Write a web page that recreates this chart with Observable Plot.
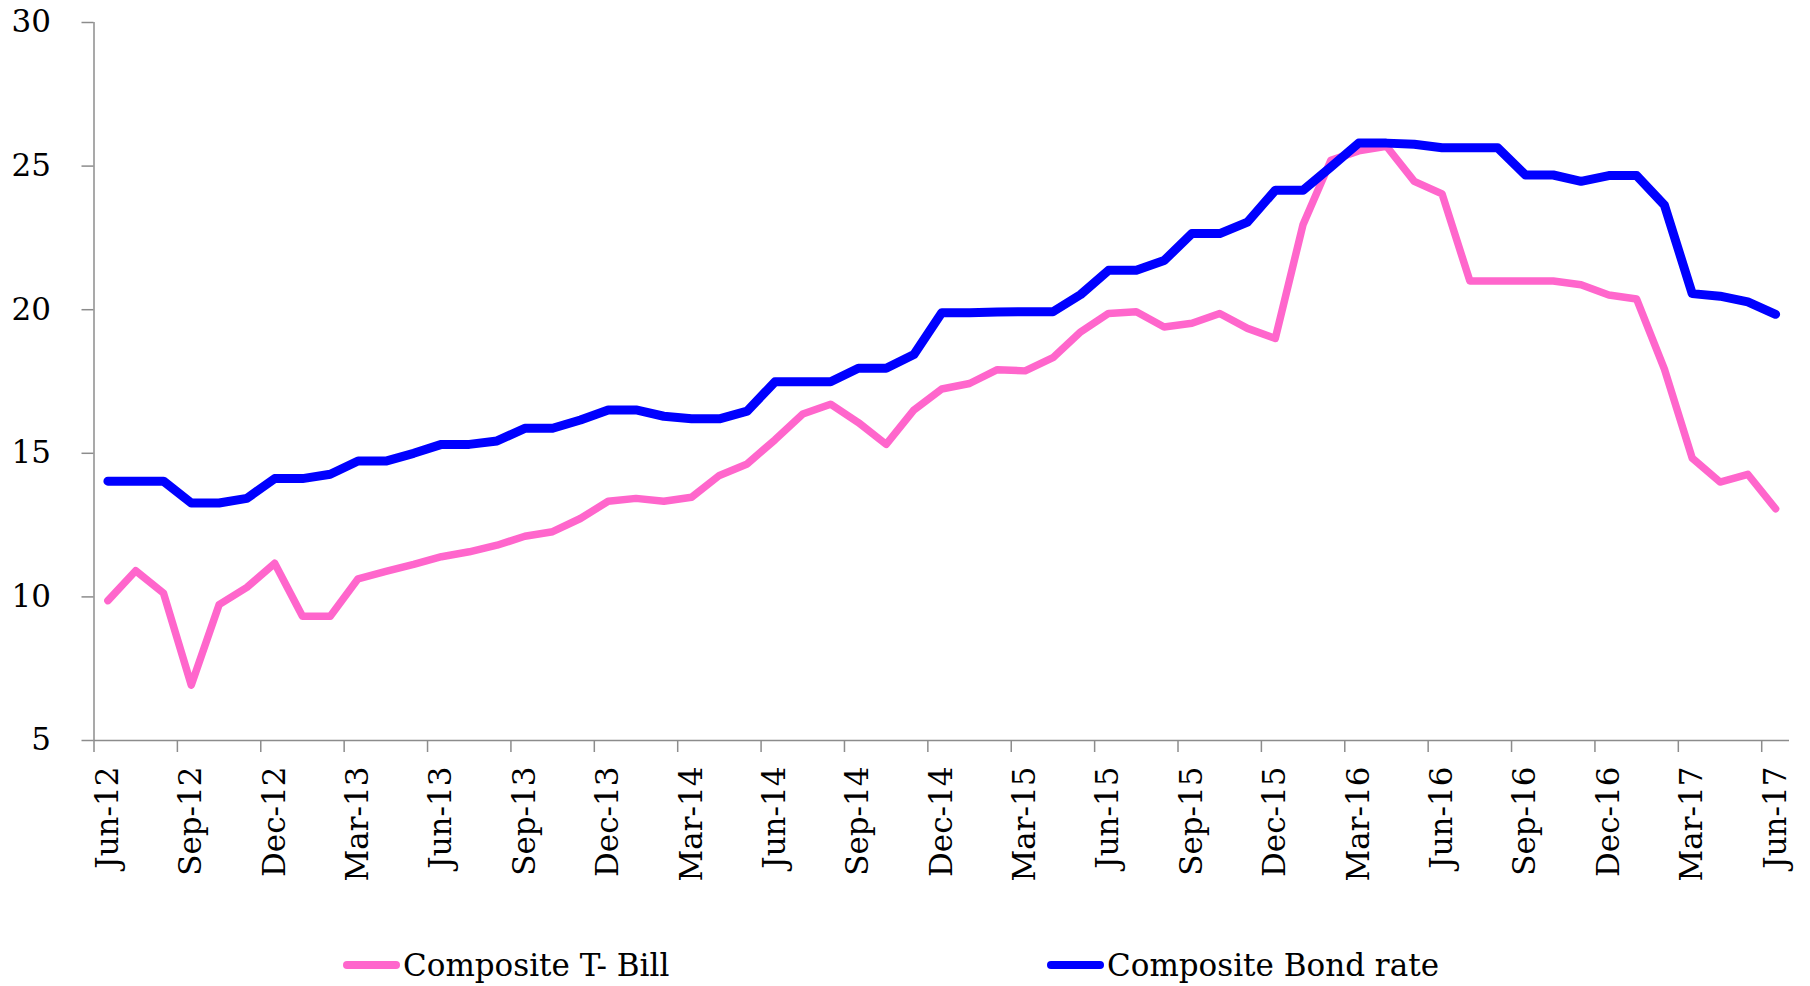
<!DOCTYPE html>
<html>
<head>
<meta charset="utf-8">
<script src="https://cdn.jsdelivr.net/npm/d3@7"></script>
<script src="https://cdn.jsdelivr.net/npm/@observablehq/plot@0.6"></script>
<style>
  html, body { margin: 0; padding: 0; background: #fff; }
  #wrap { position: relative; width: 1810px; height: 986px; overflow: hidden; font-family: "DejaVu Serif", serif; }
  .item { position: absolute; display: flex; align-items: center; height: 40px; font-size: 31px; color: #000; white-space: nowrap; }
  .sw { width: 57px; height: 8px; border-radius: 4px; margin-right: 3px; }
</style>
</head>
<body>
<div id="wrap"></div>
<script>
// Monthly observations Jun-12 … Jun-17 (61 months)
const tickLabels = ["Jun-12","Sep-12","Dec-12","Mar-13","Jun-13","Sep-13","Dec-13","Mar-14","Jun-14","Sep-14","Dec-14","Mar-15","Jun-15","Sep-15","Dec-15","Mar-16","Jun-16","Sep-16","Dec-16","Mar-17","Jun-17"];
const seriesNames = ["Composite T- Bill", "Composite Bond rate"];
const tbill = [9.87,10.91,10.13,6.93,9.73,10.33,11.17,9.33,9.33,10.63,10.89,11.13,11.4,11.57,11.8,12.11,12.27,12.73,13.33,13.43,13.33,
  13.47,14.23,14.63,15.47,16.37,16.71,16.07,15.31,16.51,17.24,17.43,17.91,17.87,18.33,19.23,19.87,19.93,19.4,19.53,19.87,19.35,
  19.0,22.97,25.2,25.53,25.69,24.47,24.03,21.0,21.0,21.0,21.0,20.87,20.51,20.37,17.93,14.83,14.0,14.27,13.07];
const bond = [14.03,14.03,14.03,13.27,13.27,13.43,14.12,14.12,14.27,14.73,14.73,15.0,15.31,15.31,15.43,15.87,15.87,16.16,16.51,16.51,16.29,
  16.2,16.2,16.47,17.49,17.49,17.49,17.96,17.96,18.44,19.89,19.89,19.92,19.93,19.93,20.53,21.37,21.37,21.71,22.65,22.65,23.05,
  24.16,24.16,24.97,25.8,25.8,25.76,25.64,25.64,25.64,24.69,24.69,24.47,24.67,24.67,23.64,20.56,20.47,20.27,19.84];
const yTicks = [5, 10, 15, 20, 25, 30];
const colors = ["#FF66CC", "#0000FF"];

const n = tbill.length;
const tbillData = tbill.map((v, i) => ({i: i + 0.5, v}));
const bondData = bond.map((v, i) => ({i: i + 0.5, v}));
const tickPos = d3.range(0, n + 1, 3);
const labelPos = tickPos.map(t => t + 0.5);

const chart = Plot.plot({
  width: 1810,
  height: 925,
  marginLeft: 93.5,
  marginTop: 22,
  marginBottom: 185,
  marginRight: 21,
  style: {fontFamily: "DejaVu Serif, serif", fontSize: "31px", color: "#000", background: "#fff"},
  x: {type: "linear", domain: [0, n], label: null},
  y: {domain: [5, 30], label: null},
  marks: [
    Plot.ruleX([0], {stroke: "#8c8c8c", strokeWidth: 1.5}),
    Plot.ruleY([5], {stroke: "#8c8c8c", strokeWidth: 1.5}),
    Plot.axisY({ticks: yTicks, tickSize: 12, stroke: "#8c8c8c", strokeWidth: 1.5, fill: "none"}),
    Plot.axisY({ticks: yTicks, tickSize: 0, tickPadding: 43, fill: "#000", fontSize: 31}),
    Plot.axisX({ticks: tickPos, tickSize: 12, stroke: "#8c8c8c", strokeWidth: 1.5, fill: "none"}),
    Plot.axisX({ticks: labelPos, tickSize: 0, tickPadding: 26, tickRotate: -90, fill: "#000", fontSize: 31,
      tickFormat: d => tickLabels[Math.round((d - 0.5) / 3)]}),
    Plot.line(tbillData, {x: "i", y: "v", stroke: colors[0], strokeWidth: 7.5, strokeLinejoin: "round", strokeLinecap: "round"}),
    Plot.line(bondData, {x: "i", y: "v", stroke: colors[1], strokeWidth: 9, strokeLinejoin: "round", strokeLinecap: "round"})
  ]
});

const wrap = document.getElementById("wrap");
chart.style.position = "absolute";
chart.style.left = "0px";
chart.style.top = "0px";
wrap.appendChild(chart);

const legendLefts = [343, 1047];
seriesNames.forEach((name, k) => {
  const it = document.createElement("div");
  it.className = "item";
  it.style.left = legendLefts[k] + "px";
  it.style.top = "945px";
  const sw = document.createElement("div");
  sw.className = "sw";
  sw.style.background = colors[k];
  const tx = document.createElement("span");
  tx.textContent = name;
  it.appendChild(sw);
  it.appendChild(tx);
  wrap.appendChild(it);
});
</script>
</body>
</html>
